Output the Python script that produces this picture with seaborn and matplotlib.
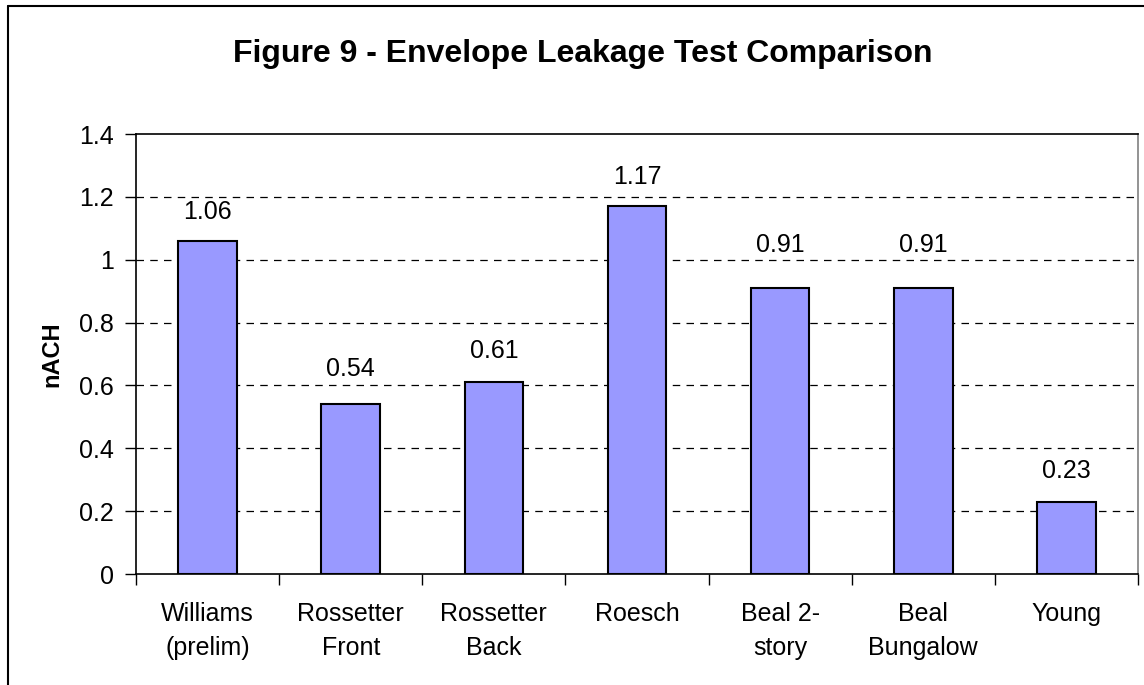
import matplotlib
matplotlib.use("Agg")
import matplotlib.pyplot as plt
import seaborn as sns
import pandas as pd
from matplotlib.lines import Line2D

# datos
sites = ["Williams\n(prelim)", "Rossetter\nFront", "Rossetter\nBack", "Roesch",
         "Beal 2-\nstory", "Beal\nBungalow", "Young"]
nach = [1.06, 0.54, 0.61, 1.17, 0.91, 0.91, 0.23]
yticks = [0, 0.2, 0.4, 0.6, 0.8, 1, 1.2, 1.4]
ytick_labels = ["0", "0.2", "0.4", "0.6", "0.8", "1", "1.2", "1.4"]

df = pd.DataFrame({"site": sites, "nACH": nach})

sns.set_theme(style="white")
plt.rcParams["font.family"] = ["Liberation Sans", "DejaVu Sans"]
plt.rcParams["text.color"] = "black"
plt.rcParams["axes.labelcolor"] = "black"
plt.rcParams["xtick.color"] = "black"
plt.rcParams["ytick.color"] = "black"

fig = plt.figure(figsize=(11.44, 6.85), dpi=100)
ax = fig.add_axes([136 / 1144, 1 - 574 / 685, (1138 - 136) / 1144, (574 - 134) / 685])

sns.barplot(data=df, x="site", y="nACH", color="#9999FF", width=0.41,
            edgecolor="black", linewidth=1.5, saturation=1, ax=ax)

ax.set_ylim(0, 1.4)
ax.set_xlim(-0.5, len(sites) - 0.5)
ax.set_yticks(yticks)
ax.set_yticklabels(ytick_labels, fontsize=18)
ax.set_xticks(range(len(sites)))
ax.set_xticklabels(sites, fontsize=18, linespacing=1.55)
ax.tick_params(axis="x", length=0, pad=20)
ax.tick_params(axis="y", length=8, width=1, color="black", direction="out", pad=8, left=True)

# marcas entre categorias
ax.set_xticks([i - 0.5 for i in range(len(sites) + 1)], minor=True)
ax.tick_params(axis="x", which="minor", length=8, width=1, color="black", direction="out", bottom=True)

for y in yticks[1:-1]:
    ax.axhline(y, color="black", linestyle=(0, (6, 5)), linewidth=0.9, zorder=0)

# Excel sube las etiquetas de 0.91 para no pisar la linea de 1.0
pads = [0.055, 0.075, 0.06, 0.055, 0.10, 0.10, 0.06]
for i, v in enumerate(nach):
    ax.text(i, v + pads[i], f"{v:.2f}", ha="center", va="bottom", fontsize=18)

ax.set_xlabel("")
ax.set_ylabel("nACH", fontsize=17, fontweight="bold", labelpad=11)
for side in ["left", "bottom", "top"]:
    ax.spines[side].set_color("black")
    ax.spines[side].set_linewidth(1.2)
ax.spines["right"].set_color("#808080")
ax.spines["right"].set_linewidth(1.2)

fig.text(583 / 1144, 1 - 54 / 685, "Figure 9 - Envelope Leakage Test Comparison",
         ha="center", va="center", fontsize=23, fontweight="bold")

# borde exterior del grafico
fig.add_artist(Line2D([7.5 / 1144, 7.5 / 1144], [0, 1 - 6 / 685], color="black", linewidth=1.5,
                      transform=fig.transFigure))
fig.add_artist(Line2D([7.5 / 1144, 1], [1 - 6 / 685, 1 - 6 / 685], color="black", linewidth=1.5,
                      transform=fig.transFigure))

fig.savefig("out.png", dpi=100)
